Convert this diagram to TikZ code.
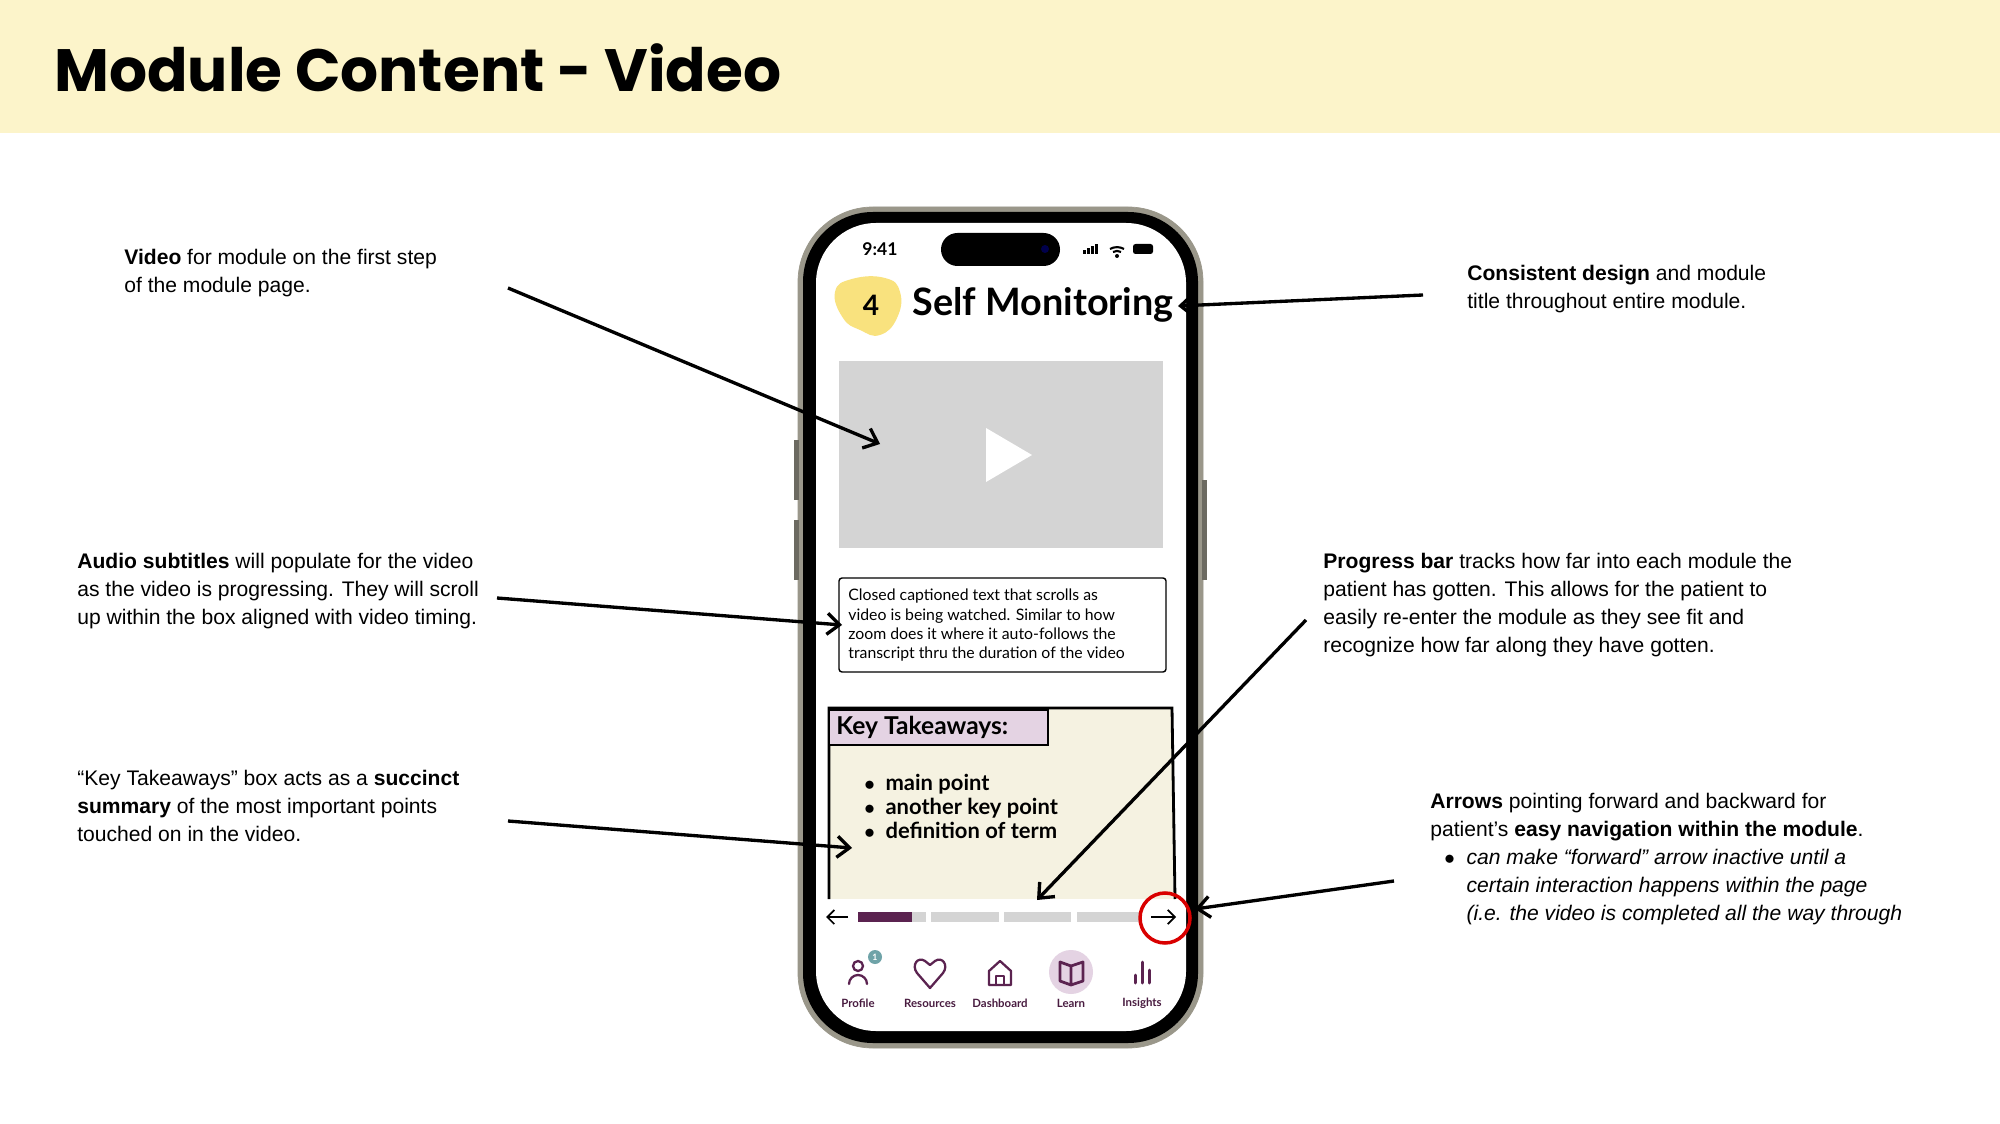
\documentclass[tikz,border=0pt]{standalone}
\usepackage{fontspec}
\setmainfont{Liberation Sans}
\newfontfamily\titlefont{Poppins}
\newfontfamily\appfont{Lato}
\usetikzlibrary{arrows.meta}
\definecolor{hdr}{HTML}{FCF4CA}
\definecolor{vgrey}{HTML}{D4D4D4}
\definecolor{cream}{HTML}{F5F2E1}
\definecolor{tabp}{HTML}{E4D3E3}
\definecolor{plum}{HTML}{5B2350}
\definecolor{blob}{HTML}{F9E27E}
\definecolor{bezel}{HTML}{9A978A}
\definecolor{teal}{HTML}{6FA3A8}
\tikzset{x=0.02cm,y=-0.02cm,
 note/.style={anchor=north west,inner sep=0pt,align=left,font=\fontsize{12}{15.9}\selectfont},
 callout/.style={line width=1.9pt,-{Straight Barb[length=7pt,width=12pt,line width=1.9pt]}},
 icon/.style={draw=plum,line width=1.3pt,line cap=round,line join=round},
 navlbl/.style={font=\appfont\bfseries\fontsize{6.5}{7}\selectfont,text=plum!80!black}}
\begin{document}
\begin{tikzpicture}
\useasboundingbox (0,0) rectangle (2000,1124);
\fill[white] (0,0) rectangle (2000,1124);
\fill[hdr] (0,0) rectangle (2000,133);
\node[anchor=west,inner sep=0pt,font=\titlefont\bfseries\fontsize{34}{38}\selectfont] (title) at (54,68) {Module Content - Video};
% phone
\draw[bezel,rounded corners=1.5cm,fill=bezel] (798,207) rectangle (1203,1048);
\fill[bezel!70!black] (794,440) rectangle (799,500);
\fill[bezel!70!black] (794,520) rectangle (799,580);
\fill[bezel!70!black] (1202,480) rectangle (1207,580);
\fill[black,rounded corners=1.4cm] (803,212) rectangle (1198,1043);
\fill[white,rounded corners=1.2cm] (816,223) rectangle (1186,1031);
\node[font=\appfont\bfseries\fontsize{10}{12}\selectfont] (time) at (880,249) {9:41};
\fill[black,rounded corners=0.33cm] (941,233) rectangle (1060,266);
\fill[blue!30!black] (1045,249) circle (4);
% status icons
\foreach \i/\h in {0/4,1/6,2/8,3/10}{\fill (1083+\i*4,254) rectangle (1085.5+\i*4,254-\h);}
\draw[line width=1.2pt] (1110,249) arc (-120:-60:14);
\draw[line width=1.2pt] (1113,252) arc (-120:-60:8);
\fill (1117,256) circle (2);
\fill[rounded corners=0.05cm] (1133,244) rectangle (1153,254);
% header of screen
\fill[blob] plot[smooth cycle,tension=0.8] coordinates {(835,292) (852,279) (885,278) (900,292) (897,318) (880,335) (860,330) (843,318)};
\node[font=\appfont\bfseries\fontsize{16}{18}\selectfont] (num) at (871,305) {4};
\node[anchor=west,inner sep=0pt,font=\appfont\bfseries\fontsize{21.5}{24}\selectfont] (smtitle) at (912,305) {Self Monitoring};
% video
\fill[vgrey] (839,361) rectangle (1163,548);
\coordinate (video) at (880,444);
\fill[white] (986,428) -- (986,482) -- (1032,455) -- cycle;
% caption box
\draw[line width=0.8pt,rounded corners=0.06cm] (839,578) rectangle (1166,672);
\node[anchor=north west,inner sep=0pt,align=left,font=\appfont\fontsize{9}{10.9}\selectfont] (cap) at (848,589) {Closed captioned text that scrolls as\\video is being watched. Similar to how\\zoom does it where it auto-follows the\\transcript thru the duration of the video};
\coordinate (capbox) at (842,625);
% key takeaways
\fill[cream] (829,708) rectangle (1173,899);
\draw[line width=1.6pt] (829,899) -- (829,708) -- (1172,708) -- (1175,899);
\draw[line width=1.6pt,fill=tabp] (829,710) rectangle (1048,745);
\node[anchor=west,inner sep=0pt,font=\appfont\bfseries\fontsize{14}{16}\selectfont] (kt) at (836,727) {Key Takeaways:};
\node[anchor=north west,inner sep=0pt,align=left,font=\appfont\bfseries\fontsize{12.5}{13.7}\selectfont] (pts) at (864,774) {$\bullet$\ \ main point\\$\bullet$\ \ another key point\\$\bullet$\ \ definition of term};
\coordinate (ktbox) at (852,848);
% progress bar
\draw[line width=1pt,-{Straight Barb[length=4pt,width=8pt]}] (848,917) -- (826,917);
\fill[vgrey] (858,912) rectangle (926,922);
\fill[plum] (858,912) rectangle (912,922);
\fill[vgrey] (931,912) rectangle (999,922);
\fill[vgrey] (1004,912) rectangle (1071,922);
\fill[vgrey] (1077,912) rectangle (1142,922);
\coordinate (pbar) at (1037,900);
\draw[line width=1pt,-{Straight Barb[length=4pt,width=8pt]}] (1151,917) -- (1176,917);
\draw[red!85!black,line width=2pt] (1165,918) circle (25);
\coordinate (fwd) at (1195,909);
% nav
\draw[icon] (858,966) circle (5);
\draw[icon] (849,984) arc (180:360:9);
\fill[teal] (875,957) circle (7); \node[white,font=\appfont\bfseries\fontsize{5}{5}\selectfont] at (875,957) {1};
\draw[icon] (930,988) -- (917,973) .. controls (911,965) and (918,956) .. (925,961) -- (930,965) -- (935,961) .. controls (942,956) and (949,965) .. (943,973) -- cycle;
\draw[icon] (989,985) -- (989,971) -- (1000,961) -- (1011,971) -- (1011,985) -- cycle;
\draw[icon] (996,985) -- (996,976) -- (1004,976) -- (1004,985);
\fill[tabp] (1071,972) circle (22);
\draw[icon,line width=1.6pt] (1071,966) -- (1071,985) (1071,966) -- (1060,962) -- (1060,981) -- (1071,985) -- (1083,981) -- (1083,962) -- (1071,966);
\draw[icon,line width=1.7pt] (1135,975) -- (1135,983) (1142,962) -- (1142,983) (1149,970) -- (1149,983);
\node[navlbl] at (858,1003) {Profile};
\node[navlbl] at (930,1003) {Resources};
\node[navlbl] at (1000,1003) {Dashboard};
\node[navlbl] at (1071,1003) {Learn};
\node[navlbl] at (1142,1003) {Insights};
% annotations
\node[note] (n1) at (124,249) {\textbf{Video} for module on the first step\\of the module page.};
\coordinate (n1e) at (508,288);
\node[note] (n2) at (1467,265) {\textbf{Consistent design} and module\\title throughout entire module.};
\coordinate (n2e) at (1423,295);
\node[note] (n3) at (77,553) {\textbf{Audio subtitles} will populate for the video\\as the video is progressing. They will scroll\\up within the box aligned with video timing.};
\coordinate (n3e) at (497,598);
\node[note] (n4) at (77,770) {“Key Takeaways” box acts as a \textbf{succinct}\\\textbf{summary} of the most important points\\touched on in the video.};
\coordinate (n4e) at (508,821);
\node[note] (n5) at (1323,553) {\textbf{Progress bar} tracks how far into each module the\\patient has gotten. This allows for the patient to\\easily re-enter the module as they see fit and\\recognize how far along they have gotten.};
\coordinate (n5e) at (1306,620);
\node[note] (n6) at (1430,793) {\textbf{Arrows} pointing forward and backward for\\patient’s \textbf{easy navigation within the module}.};
\node[note,font=\itshape\fontsize{12}{15.9}\selectfont] (n6b) at (1444,849) {$\bullet$\ \ can make “forward” arrow inactive until a\\\phantom{$\bullet$\ \ }certain interaction happens within the page\\\phantom{$\bullet$\ \ }(i.e. the video is completed all the way through};
\coordinate (n6e) at (1394,881);
\coordinate (smt) at (1178,306);
\draw[callout] (n1e) -- (video);
\draw[callout] (n2e) -- (smt);
\draw[callout] (n3e) -- (capbox);
\draw[callout] (n4e) -- (ktbox);
\draw[callout] (n5e) -- (pbar);
\draw[callout] (n6e) -- (fwd);
\end{tikzpicture}
\end{document}
